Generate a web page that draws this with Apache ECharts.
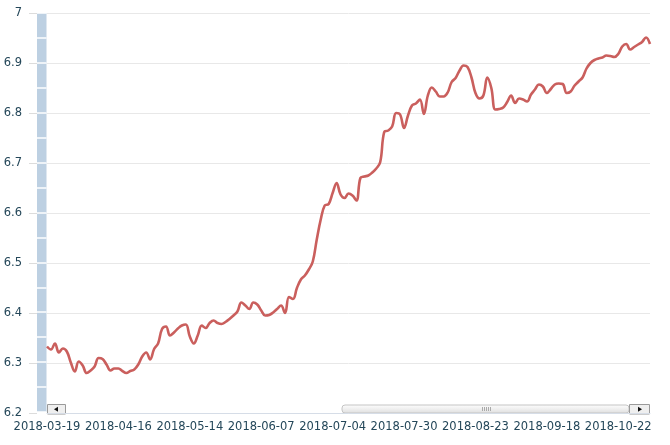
<!DOCTYPE html>
<html>
<head>
<meta charset="utf-8">
<script src="https://cdn.jsdelivr.net/npm/echarts@6/dist/echarts.min.js"></script>
<style>
  html, body { margin: 0; padding: 0; background: #fff; }
  #chart { width: 670px; height: 445px; }
</style>
</head>
<body>
<div id="chart"></div>
<script>
// trading days (CFETS calendar, holidays skipped)
const dates = [
  "2018-03-19", "2018-03-20", "2018-03-21", "2018-03-22", "2018-03-23",
  "2018-03-26", "2018-03-27", "2018-03-28", "2018-03-29", "2018-03-30",
  "2018-04-02", "2018-04-03", "2018-04-04",
  "2018-04-09", "2018-04-10", "2018-04-11", "2018-04-12", "2018-04-13",
  "2018-04-16", "2018-04-17", "2018-04-18", "2018-04-19", "2018-04-20",
  "2018-04-23", "2018-04-24", "2018-04-25", "2018-04-26", "2018-04-27",
  "2018-05-02", "2018-05-03", "2018-05-04",
  "2018-05-07", "2018-05-08", "2018-05-09", "2018-05-10", "2018-05-11",
  "2018-05-14", "2018-05-15", "2018-05-16", "2018-05-17", "2018-05-18",
  "2018-05-21", "2018-05-22", "2018-05-23", "2018-05-24", "2018-05-25",
  "2018-05-28", "2018-05-29", "2018-05-30", "2018-05-31", "2018-06-01",
  "2018-06-04", "2018-06-05", "2018-06-06", "2018-06-07", "2018-06-08",
  "2018-06-11", "2018-06-12", "2018-06-13", "2018-06-14", "2018-06-15",
  "2018-06-19", "2018-06-20", "2018-06-21", "2018-06-22",
  "2018-06-25", "2018-06-26", "2018-06-27", "2018-06-28", "2018-06-29",
  "2018-07-02", "2018-07-03", "2018-07-04", "2018-07-05", "2018-07-06",
  "2018-07-09", "2018-07-10", "2018-07-11", "2018-07-12", "2018-07-13",
  "2018-07-16", "2018-07-17", "2018-07-18", "2018-07-19", "2018-07-20",
  "2018-07-23", "2018-07-24", "2018-07-25", "2018-07-26", "2018-07-27",
  "2018-07-30", "2018-07-31", "2018-08-01", "2018-08-02", "2018-08-03",
  "2018-08-06", "2018-08-07", "2018-08-08", "2018-08-09", "2018-08-10",
  "2018-08-13", "2018-08-14", "2018-08-15", "2018-08-16", "2018-08-17",
  "2018-08-20", "2018-08-21", "2018-08-22", "2018-08-23", "2018-08-24",
  "2018-08-27", "2018-08-28", "2018-08-29", "2018-08-30", "2018-08-31",
  "2018-09-03", "2018-09-04", "2018-09-05", "2018-09-06", "2018-09-07",
  "2018-09-10", "2018-09-11", "2018-09-12", "2018-09-13", "2018-09-14",
  "2018-09-17", "2018-09-18", "2018-09-19", "2018-09-20", "2018-09-21",
  "2018-09-25", "2018-09-26", "2018-09-27", "2018-09-28",
  "2018-10-08", "2018-10-09", "2018-10-10", "2018-10-11", "2018-10-12",
  "2018-10-15", "2018-10-16", "2018-10-17", "2018-10-18", "2018-10-19",
  "2018-10-22", "2018-10-23", "2018-10-24", "2018-10-25", "2018-10-26",
  "2018-10-29", "2018-10-30", "2018-10-31", "2018-11-01"
];

// USD/CNY
const rates = [
  6.333, 6.327, 6.339, 6.321, 6.329, 6.323, 6.301, 6.283, 6.303, 6.295,
  6.280, 6.285, 6.293, 6.310, 6.308, 6.297, 6.285, 6.289, 6.289, 6.284,
  6.280, 6.284, 6.287, 6.297, 6.313, 6.321, 6.307, 6.328, 6.339, 6.368,
  6.373, 6.355, 6.361, 6.369, 6.375, 6.377, 6.353, 6.339, 6.355, 6.375,
  6.370, 6.380, 6.385, 6.380, 6.378, 6.382, 6.388, 6.395, 6.403, 6.421,
  6.415, 6.408, 6.421, 6.417, 6.405, 6.395, 6.396, 6.401, 6.408, 6.415,
  6.400, 6.432, 6.428, 6.450, 6.467, 6.475, 6.487, 6.503, 6.547, 6.587,
  6.615, 6.618, 6.640, 6.660, 6.637, 6.630, 6.639, 6.635, 6.625, 6.670,
  6.673, 6.675, 6.681, 6.689, 6.702, 6.762, 6.765, 6.773, 6.800, 6.797,
  6.770, 6.795, 6.815, 6.819, 6.827, 6.798, 6.835, 6.851, 6.843, 6.833,
  6.833, 6.841, 6.862, 6.870, 6.885, 6.895, 6.892, 6.871, 6.840, 6.829,
  6.835, 6.871, 6.850, 6.807, 6.808, 6.811, 6.822, 6.835, 6.820, 6.829,
  6.827, 6.823, 6.837, 6.847, 6.857, 6.853, 6.840, 6.848, 6.857, 6.859,
  6.858, 6.840, 6.843, 6.855, 6.863, 6.871, 6.889, 6.900, 6.906, 6.909,
  6.911, 6.915, 6.914, 6.912, 6.918, 6.933, 6.938, 6.927, 6.932, 6.937,
  6.942, 6.951, 6.938
];

const yMin = 6.2;
const yMax = 7;
const yStep = 0.1;
const labelEvery = 18;

let labelColor = "#244759";
let chart = echarts.init(document.getElementById("chart"));

let option = {
  animation: false,
  textStyle: { fontFamily: "DejaVu Sans" },
  grid: [
    { left: 47, right: 20, top: 13, bottom: 32 },
    // the blue band left of the plot
    {
      left: 37, width: 9.5, top: 13, bottom: 33,
      show: true, backgroundColor: "#bdd0e2", borderWidth: 0
    }
  ],
  xAxis: [
    {
      type: "category",
      boundaryGap: false,
      data: dates,
      axisLine: { lineStyle: { color: "#d6dde7", width: 1 } },
      axisTick: { show: false },
      axisLabel: {
        interval: labelEvery - 1,
        color: labelColor,
        fontSize: 11.5,
        margin: 8
      },
      splitLine: { show: false }
    },
    { type: "value", gridIndex: 1, show: false, min: 0, max: 1 }
  ],
  yAxis: [
    {
      type: "value",
      min: yMin,
      max: yMax,
      interval: yStep,
      offset: 10,
      axisLine: { show: false },
      axisTick: { show: true, length: 8, lineStyle: { color: "#dcdcdc" } },
      axisLabel: { color: labelColor, fontSize: 11.5, margin: 15 },
      splitLine: { lineStyle: { color: "#e8e8e8", width: 1 } }
    },
    {
      type: "value",
      gridIndex: 1,
      min: yMin,
      max: yMax,
      interval: yStep / 2,
      axisLine: { show: false },
      axisTick: { show: false },
      axisLabel: { show: false },
      splitLine: { lineStyle: { color: "#ffffff", width: 1.5 } }
    }
  ],
  series: [
    {
      name: "USD/CNY",
      type: "line",
      data: rates,
      smooth: 0.4,
      symbol: "none",
      lineStyle: { color: "#ca5f5d", width: 2.6 }
    }
  ],
  // scrollbar under the plot
  graphic: [
    {
      type: "rect",
      shape: { x: 342, y: 405, width: 287, height: 8, r: 3 },
      style: {
        fill: new echarts.graphic.LinearGradient(0, 0, 0, 1, [
          { offset: 0, color: "#ffffff" },
          { offset: 1, color: "#dedede" }
        ]),
        stroke: "#c4c4c4",
        lineWidth: 1
      }
    },
    { type: "line", shape: { x1: 482.5, y1: 407, x2: 482.5, y2: 411 }, style: { stroke: "#aaa" } },
    { type: "line", shape: { x1: 484.5, y1: 407, x2: 484.5, y2: 411 }, style: { stroke: "#aaa" } },
    { type: "line", shape: { x1: 486.5, y1: 407, x2: 486.5, y2: 411 }, style: { stroke: "#aaa" } },
    { type: "line", shape: { x1: 488.5, y1: 407, x2: 488.5, y2: 411 }, style: { stroke: "#aaa" } },
    { type: "line", shape: { x1: 490.5, y1: 407, x2: 490.5, y2: 411 }, style: { stroke: "#aaa" } },
    {
      type: "rect",
      shape: { x: 47.5, y: 404.5, width: 18, height: 9.5 },
      style: { fill: "#efefef", stroke: "#9a9a9a", lineWidth: 1 }
    },
    {
      type: "polygon",
      shape: { points: [[54, 409.2], [58, 406.7], [58, 411.7]] },
      style: { fill: "#111" }
    },
    {
      type: "rect",
      shape: { x: 629.5, y: 404.5, width: 20, height: 9.5 },
      style: { fill: "#efefef", stroke: "#9a9a9a", lineWidth: 1 }
    },
    {
      type: "polygon",
      shape: { points: [[642, 409.2], [638, 406.7], [638, 411.7]] },
      style: { fill: "#111" }
    }
  ]
};

chart.setOption(option, true);
window.addEventListener("resize", () => {
  chart.resize();
});
</script>
</body>
</html>
